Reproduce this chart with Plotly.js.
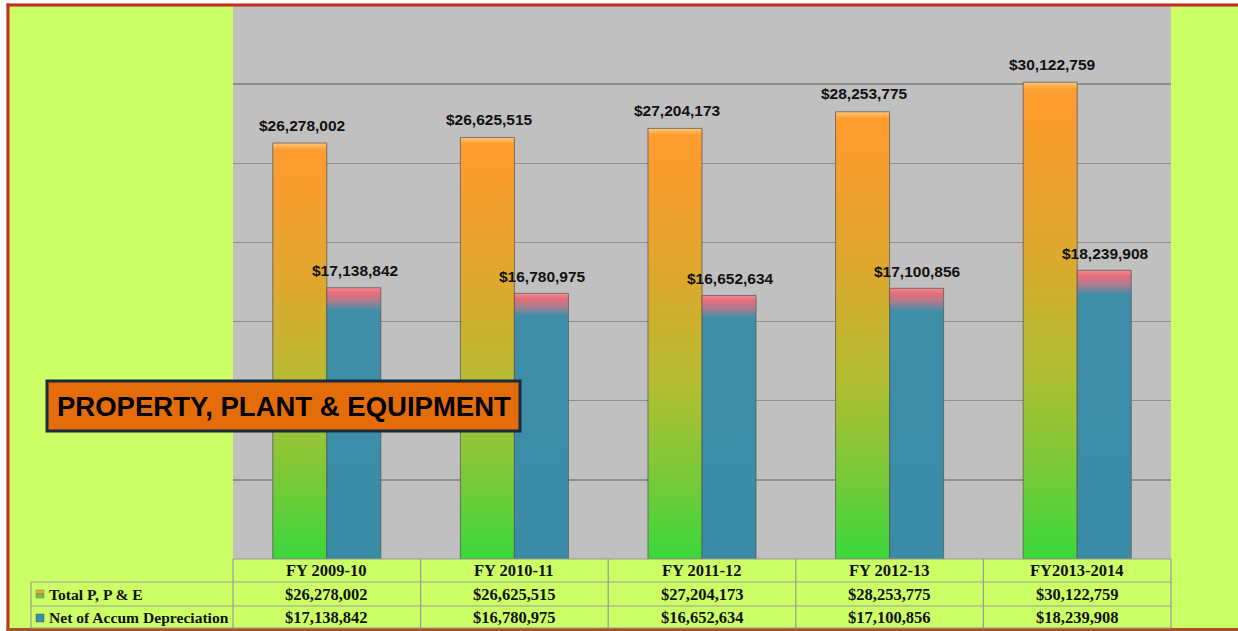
<!DOCTYPE html>
<html>
<head>
<meta charset="utf-8">
<script src="https://cdn.plot.ly/plotly-3.0.1.min.js"></script>
<style>
  html, body { margin: 0; padding: 0; background: #ffffff; overflow: hidden; }
  #chart { width: 1238px; height: 631px; }
</style>
</head>
<body>
<div id="chart"></div>
<script>
// ---- data ----
const categories = ['FY 2009-10', 'FY 2010-11', 'FY 2011-12', 'FY 2012-13', 'FY2013-2014'];
const totalPPE = [26278002, 26625515, 27204173, 28253775, 30122759];
const netOfDepreciation = [17138842, 16780975, 16652634, 17100856, 18239908];
const seriesNames = ['Total P, P & E', 'Net of Accum Depreciation'];
const chartTitle = 'PROPERTY, PLANT & EQUIPMENT';

// ---- layout geometry ----
const W = 1238, H = 631;
const PL = 233, PR = 1171, PT = 5, PB = 559;
const pw = PR - PL, ph = PB - PT;
const px = x => (x - PL) / pw;
const py = y => 1 - (y - PT) / ph;

const money = v => '$' + v.toLocaleString('en-US');

const lime = '#CCFF66';
const tableLine = '#9A9A9A';
const labelFont = { family: 'Liberation Sans, Arial, sans-serif', size: 15.5, color: '#111111' };
const tableFont = { family: 'Liberation Serif, Times New Roman, serif', size: 16.5, color: '#111111' };
const rowLabelFont = { family: 'Liberation Serif, Times New Roman, serif', size: 15.6, color: '#111111' };

const traces = [
  {
    type: 'bar', name: seriesNames[0], x: categories, y: totalPPE,
    marker: { color: '#F59A30', line: { color: 'rgba(85,85,85,0.75)', width: 1 } },
    hoverinfo: 'skip'
  },
  {
    type: 'bar', name: seriesNames[1], x: categories, y: netOfDepreciation,
    marker: { color: '#3A8EA8', line: { color: 'rgba(85,85,85,0.75)', width: 1 } },
    hoverinfo: 'skip'
  }
];

const annotations = [];
const shapes = [];

// outer white strips + red frame (top, left, bottom only)
shapes.push({ type: 'rect', xref: 'paper', yref: 'paper', x0: px(0), x1: px(W), y0: py(0), y1: py(3.5), fillcolor: '#ffffff', line: { width: 0 }, layer: 'above' });
shapes.push({ type: 'rect', xref: 'paper', yref: 'paper', x0: px(0), x1: px(6.5), y0: py(0), y1: py(H), fillcolor: '#ffffff', line: { width: 0 }, layer: 'above' });
shapes.push({ type: 'rect', xref: 'paper', yref: 'paper', x0: px(1230), x1: px(W), y0: py(6.5), y1: py(628), fillcolor: lime, line: { width: 0 }, layer: 'above' });
shapes.push({ type: 'line', xref: 'paper', yref: 'paper', x0: px(6.5), x1: px(W), y0: py(5), y1: py(5), line: { color: '#C42A2A', width: 3 }, layer: 'above' });
shapes.push({ type: 'line', xref: 'paper', yref: 'paper', x0: px(8), x1: px(8), y0: py(3.5), y1: py(H), line: { color: '#C42A2A', width: 3 }, layer: 'above' });
shapes.push({ type: 'line', xref: 'paper', yref: 'paper', x0: px(6.5), x1: px(W), y0: py(629.5), y1: py(629.5), line: { color: '#A8522C', width: 3 }, layer: 'above' });

// table grid
const hLine = (x0, x1, y) => shapes.push({ type: 'line', xref: 'paper', yref: 'paper', x0: px(x0), x1: px(x1), y0: py(y), y1: py(y), line: { color: tableLine, width: 1.2 } });
const vLine = (x, y0, y1) => shapes.push({ type: 'line', xref: 'paper', yref: 'paper', x0: px(x), x1: px(x), y0: py(y0), y1: py(y1), line: { color: tableLine, width: 1.2 } });
hLine(PL, PR, 559);
hLine(31, PR, 582);
hLine(31, PR, 606);
hLine(31, PR, 628);
vLine(31, 582, 628);
for (let i = 0; i <= categories.length; i++) {
  vLine(PL + i * pw / categories.length, 559, 628);
}

// legend keys inside table
shapes.push({ type: 'rect', xref: 'paper', yref: 'paper', x0: px(36), x1: px(44), y0: py(590), y1: py(594), fillcolor: '#F5A23A', line: { width: 0.5, color: '#777' } });
shapes.push({ type: 'rect', xref: 'paper', yref: 'paper', x0: px(36), x1: px(44), y0: py(594), y1: py(598), fillcolor: '#6CC33C', line: { width: 0.5, color: '#777' } });
shapes.push({ type: 'rect', xref: 'paper', yref: 'paper', x0: px(36), x1: px(44), y0: py(614), y1: py(622), fillcolor: '#3A8EA8', line: { width: 0.5, color: '#555' } });

// row labels
annotations.push({ xref: 'paper', yref: 'paper', x: px(47), y: py(594.5), xanchor: 'left', yanchor: 'middle', text: '<b>' + seriesNames[0] + '</b>', showarrow: false, font: rowLabelFont });
annotations.push({ xref: 'paper', yref: 'paper', x: px(47), y: py(617.5), xanchor: 'left', yanchor: 'middle', text: '<b>' + seriesNames[1] + '</b>', showarrow: false, font: rowLabelFont });

categories.forEach((c, i) => {
  annotations.push({ xref: 'x', yref: 'paper', x: c, y: py(570.5), xanchor: 'center', yanchor: 'middle', text: '<b>' + c + '</b>', showarrow: false, font: tableFont });
  annotations.push({ xref: 'x', yref: 'paper', x: c, y: py(594.5), xanchor: 'center', yanchor: 'middle', text: '<b>' + money(totalPPE[i]) + '</b>', showarrow: false, font: tableFont });
  annotations.push({ xref: 'x', yref: 'paper', x: c, y: py(617.5), xanchor: 'center', yanchor: 'middle', text: '<b>' + money(netOfDepreciation[i]) + '</b>', showarrow: false, font: tableFont });
  // bar value labels
  annotations.push({ xref: 'x', yref: 'y', x: c, y: totalPPE[i], xshift: -25, yshift: 18, xanchor: 'center', yanchor: 'middle', text: '<b>' + money(totalPPE[i]) + '</b>', showarrow: false, font: labelFont });
  annotations.push({ xref: 'x', yref: 'y', x: c, y: netOfDepreciation[i], xshift: 28, yshift: 17, xanchor: 'center', yanchor: 'middle', text: '<b>' + money(netOfDepreciation[i]) + '</b>', showarrow: false, font: labelFont });
});

// title box
shapes.push({ type: 'rect', xref: 'paper', yref: 'paper', x0: px(47), x1: px(520), y0: py(381), y1: py(431), fillcolor: '#E46C0A', line: { color: '#182A40', width: 3 }, layer: 'above' });
annotations.push({ xref: 'paper', yref: 'paper', x: px(283.5), y: py(406), xanchor: 'center', yanchor: 'middle', text: '<b>' + chartTitle + '</b>', showarrow: false,
  font: { family: 'Liberation Sans, Arial, sans-serif', size: 27.5, color: '#000000' } });

const layout = {
  width: W, height: H,
  margin: { l: PL, r: W - PR, t: PT, b: H - PB, pad: 0 },
  paper_bgcolor: lime,
  plot_bgcolor: '#C0C0C0',
  showlegend: false,
  barmode: 'group',
  bargap: 0.424,
  bargroupgap: 0,
  xaxis: { showticklabels: false, ticks: '', showgrid: false, zeroline: false, showline: false, fixedrange: true },
  yaxis: { range: [0, 35000000], dtick: 5000000, showticklabels: false, ticks: '', showgrid: true, gridcolor: '#8E8E8E', gridwidth: 1.5, zeroline: false, showline: false, fixedrange: true },
  shapes: shapes,
  annotations: annotations
};

const gd = document.getElementById('chart');
Plotly.newPlot(gd, traces, layout, { staticPlot: true, displayModeBar: false }).then(() => {
  const svg = gd.querySelector('svg.main-svg');
  const NS = 'http://www.w3.org/2000/svg';
  let defs = svg.querySelector('defs');
  if (!defs) { defs = document.createElementNS(NS, 'defs'); svg.insertBefore(defs, svg.firstChild); }
  const mkGrad = (id, stops) => {
    const g = document.createElementNS(NS, 'linearGradient');
    g.setAttribute('id', id);
    g.setAttribute('x1', '0'); g.setAttribute('y1', '0'); g.setAttribute('x2', '0'); g.setAttribute('y2', '1');
    stops.forEach(([o, c]) => {
      const s = document.createElementNS(NS, 'stop');
      s.setAttribute('offset', o);
      s.setAttribute('stop-color', c);
      g.appendChild(s);
    });
    defs.appendChild(g);
  };
  mkGrad('gradOrange', [[0, '#FFC878'], [0.015, '#FF9E30'], [0.08, '#FB9C2E'], [0.35, '#DDA82E'], [0.6, '#B2BE32'], [0.82, '#76CA38'], [1, '#3AD83C']]);
  mkGrad('gradBlue', [[0, '#F48C94'], [0.02, '#E56C78'], [0.045, '#B87A8C'], [0.085, '#3E8EA8'], [1, '#3A8CA6']]);
  const tr = gd.querySelectorAll('.barlayer .trace');
  const ids = ['gradOrange', 'gradBlue'];
  tr.forEach((t, k) => {
    t.querySelectorAll('.point path').forEach(p => { p.style.fill = 'url(#' + ids[k] + ')'; });
  });
});
</script>
</body>
</html>
